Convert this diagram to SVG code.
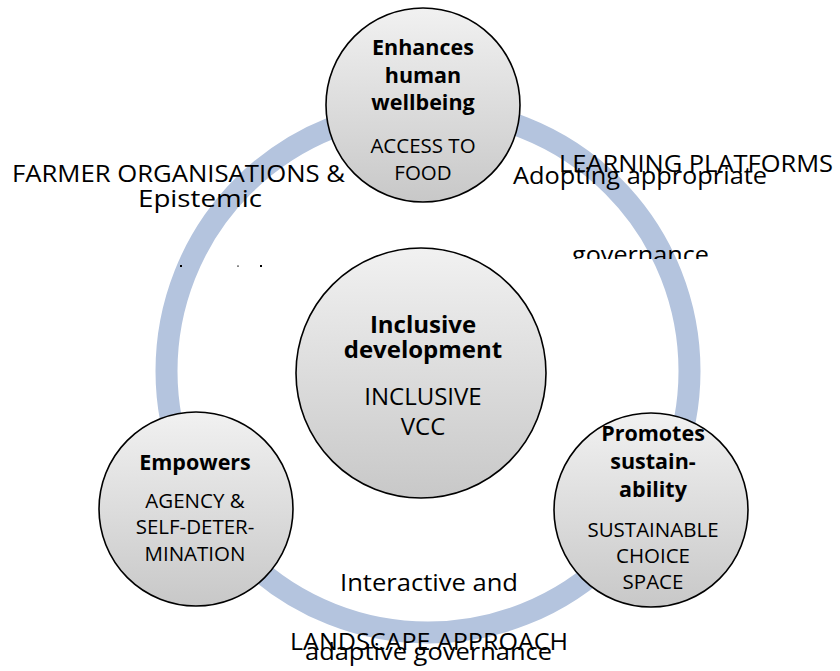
<svg xmlns="http://www.w3.org/2000/svg" width="840" height="671" viewBox="0 0 840 671">
<defs>
<linearGradient id="grad" x1="0" y1="0" x2="0" y2="1">
<stop offset="0" stop-color="#f1f1f1"/>
<stop offset="1" stop-color="#c8c8c8"/>
</linearGradient>
<clipPath id="clipGov"><rect x="540" y="230" width="200" height="29"/></clipPath>
<style>
.node{fill:url(#grad);stroke:#000;stroke-width:1.6}
.t{font-family:"Open Sans","Liberation Sans",sans-serif;fill:#000;text-anchor:middle}
.b{font-weight:bold;font-size:21.5px}
.r{font-size:20.5px}
.o{font-family:"Open Sans","Liberation Sans",sans-serif;fill:#000;font-size:24px}
.ring{fill:none;stroke:#b4c4de;stroke-width:22}
</style>
</defs>
<rect width="840" height="671" fill="#fff"/>
<g id="connectors">
<circle class="ring" cx="428" cy="371" r="261.5"/>
</g>
<g id="labels">
<text class="o" x="12" y="182" textLength="333" lengthAdjust="spacingAndGlyphs">FARMER ORGANISATIONS &amp;</text>
<text class="o" x="138" y="207" textLength="124" lengthAdjust="spacingAndGlyphs">Epistemic</text>
<rect x="180" y="265" width="2" height="2" fill="#000"/>
<rect x="237" y="265.5" width="2" height="1.2" fill="#555"/>
<rect x="260" y="265" width="2" height="2" fill="#000"/>
<text class="o" x="559" y="172" textLength="274" lengthAdjust="spacingAndGlyphs">LEARNING PLATFORMS</text>
<text class="o" x="513" y="184" textLength="254" lengthAdjust="spacingAndGlyphs">Adopting appropriate</text>
<text class="o" x="572" y="263" textLength="137" lengthAdjust="spacingAndGlyphs" clip-path="url(#clipGov)">governance</text>
<text class="o" x="340" y="591" textLength="178" lengthAdjust="spacingAndGlyphs">Interactive and</text>
<text class="o" x="290" y="650" textLength="278" lengthAdjust="spacingAndGlyphs">LANDSCAPE APPROACH</text>
<text class="o" x="305" y="660" textLength="247" lengthAdjust="spacingAndGlyphs">adaptive governance</text>
</g>
<g id="node-top">
<circle class="node" cx="423" cy="105" r="97"/>
<text class="t b" x="423" y="55">Enhances</text>
<text class="t b" x="423" y="83">human</text>
<text class="t b" x="423" y="110">wellbeing</text>
<text class="t r" x="423" y="153">ACCESS TO</text>
<text class="t r" x="423" y="180">FOOD</text>
</g>
<g id="node-center">
<circle class="node" cx="421" cy="373" r="125"/>
<text class="t b" style="font-size:24px" x="423" y="333">Inclusive</text>
<text class="t b" style="font-size:24px" x="423" y="358">development</text>
<text class="t" style="font-size:24px" x="423" y="405">INCLUSIVE</text>
<text class="t" style="font-size:24px" x="423" y="435">VCC</text>
</g>
<g id="node-left">
<circle class="node" cx="196" cy="509" r="97"/>
<text class="t b" x="195" y="470">Empowers</text>
<text class="t r" x="195" y="508">AGENCY &amp;</text>
<text class="t r" x="195" y="534">SELF-DETER-</text>
<text class="t r" x="195" y="561">MINATION</text>
</g>
<g id="node-right">
<circle class="node" cx="651" cy="510" r="97"/>
<text class="t b" x="653" y="441">Promotes</text>
<text class="t b" x="653" y="469">sustain-</text>
<text class="t b" x="653" y="497">ability</text>
<text class="t r" x="653" y="537">SUSTAINABLE</text>
<text class="t r" x="653" y="563">CHOICE</text>
<text class="t r" x="653" y="589">SPACE</text>
</g>
</svg>
